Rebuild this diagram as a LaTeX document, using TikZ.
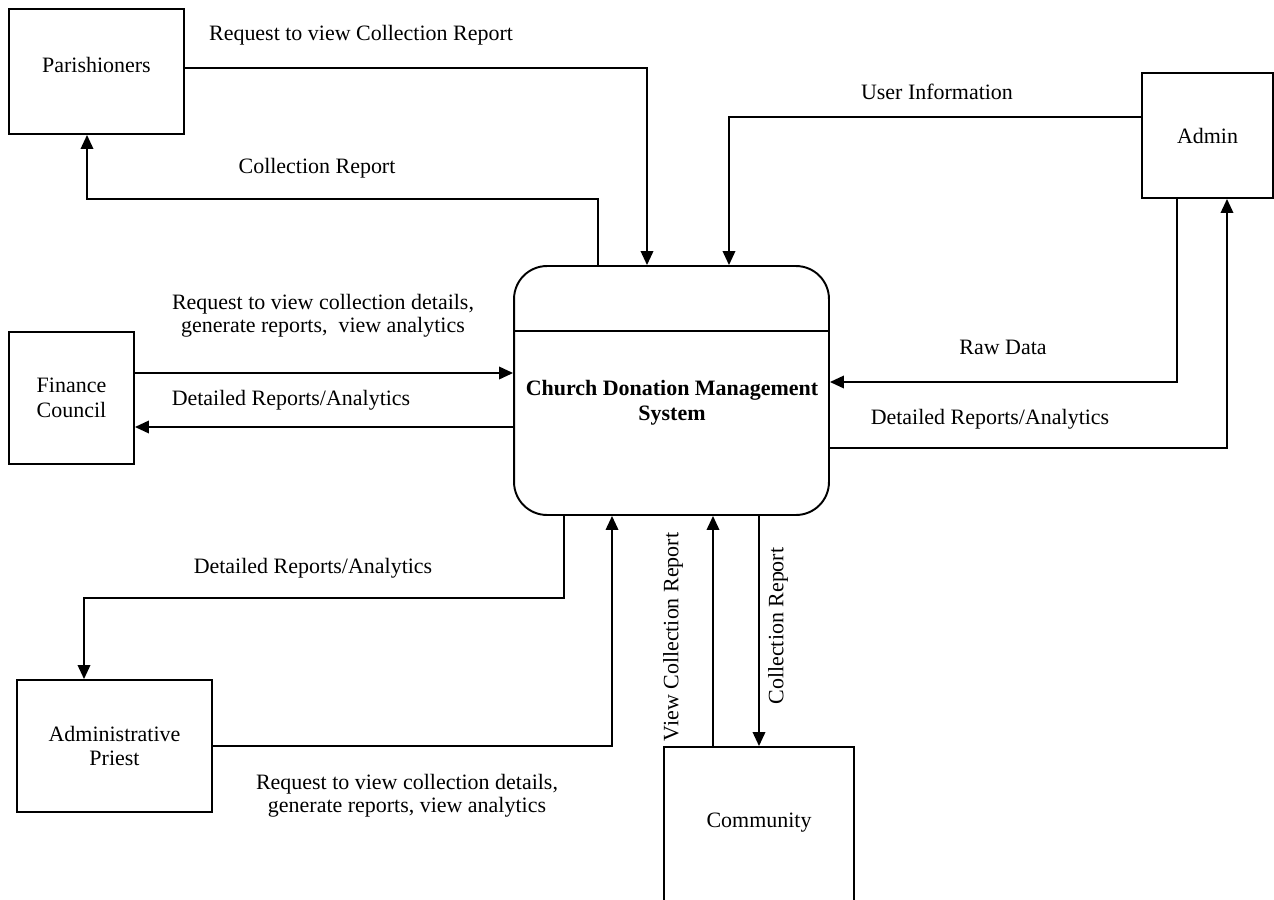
\documentclass[tikz,border=0pt]{standalone}
\usepackage{fontspec}
\setmainfont{Liberation Serif}
\usetikzlibrary{arrows.meta}

\begin{document}
\begin{tikzpicture}[x=0.02cm,y=-0.02cm]
    % Styles for the boxes, the flows and their texts
    \tikzset{
        entity/.style={
            draw,
            rectangle,
            line width=1.1pt,
            align=center,
            font=\fontsize{12.5}{14}\selectfont
        },
        process/.style={
            draw,
            rectangle,
            rounded corners=0.66cm,
            line width=1.1pt,
            minimum width=6.3cm,
            minimum height=4.98cm
        },
        flow/.style={
            line width=1.1pt,
            -{Triangle[length=0.28cm,width=0.25cm]}
        },
        flowtext/.style={
            align=center,
            font=\fontsize{12.5}{13}\selectfont
        }
    }
    \useasboundingbox (0,0) rectangle (1274,899);
    % The system in the middle
    \node[process] (main) at (671.5,390.5) {};
    \draw[line width=1pt] ([yshift=-1.32cm]main.north west) -- ([yshift=-1.32cm]main.north east);
    \node[align=center, font=\fontsize{12.5}{14}\selectfont\bfseries] (title) at (672,403) {Church Donation Management\\System};
    % External entities
    \node[entity, minimum width=3.5cm, minimum height=2.5cm, text depth=0.28cm] (parish) at (96.5,71.5) {Parishioners};
    \node[entity, minimum width=2.5cm, minimum height=2.64cm] (finance) at (71.5,398) {Finance\\Council};
    \node[entity, minimum width=3.9cm, minimum height=2.64cm] (priest) at (114.5,746) {Administrative\\Priest};
    \node[entity, minimum width=3.8cm, minimum height=3.18cm, text depth=0.24cm] (comm) at (759,826.5) {Community};
    \node[entity, minimum width=2.62cm, minimum height=2.5cm] (admin) at (1207.5,135.5) {Admin};
    % Flows
    \draw[flow] ([yshift=0.07cm]parish.east) -| ([xshift=-0.49cm]main.north);
    \draw[flow] ([xshift=-1.47cm]main.north) -- ++(0cm,1.32cm) -| ([xshift=-0.19cm]parish.south);
    \draw[flow] ([yshift=0.37cm]admin.west) -| ([xshift=1.15cm]main.north);
    \draw[flow] ([xshift=-0.61cm]admin.south) |- ([yshift=0.17cm]main.east);
    \draw[flow] ([yshift=-1.15cm]main.east) -| ([xshift=0.39cm]admin.south);
    \draw[flow] ([yshift=0.5cm]finance.east) -- ([yshift=0.35cm]main.west);
    \draw[flow] ([yshift=-0.73cm]main.west) -- ([yshift=-0.58cm]finance.east);
    \draw[flow] ([xshift=-2.15cm]main.south) -- ++(0cm,-1.64cm) -| ([xshift=-0.61cm]priest.north);
    \draw[flow] (priest.east) -| ([xshift=-1.19cm]main.south);
    \draw[flow] ([xshift=-0.92cm]comm.north) -- ([xshift=0.83cm]main.south);
    \draw[flow] (main.south -| comm.north) -- (comm.north);
    % Flow texts
    \node[flowtext] (tReqPar) at (361,35) {Request to view Collection Report};
    \node[flowtext] (tRepPar) at (317,168) {Collection Report};
    \node[flowtext] (tUser) at (937,92) {User Information};
    \node[flowtext] (tRaw) at (1003,347) {Raw Data};
    \node[flowtext] (tRepAdm) at (990,419) {Detailed Reports/Analytics};
    \node[flowtext] (tReqFin) at (323,316) {Request to view collection details,\\generate reports,\ \ view analytics};
    \node[flowtext] (tRepFin) at (291,400) {Detailed Reports/Analytics};
    \node[flowtext] (tRepPri) at (313,568) {Detailed Reports/Analytics};
    \node[flowtext] (tReqPri) at (407,796) {Request to view collection details,\\generate reports, view analytics};
    \node[flowtext, rotate=90] (tViewCom) at (673,637) {View Collection Report};
    \node[flowtext, rotate=90] (tRepCom) at (778,626) {Collection Report};
\end{tikzpicture}
\end{document}
